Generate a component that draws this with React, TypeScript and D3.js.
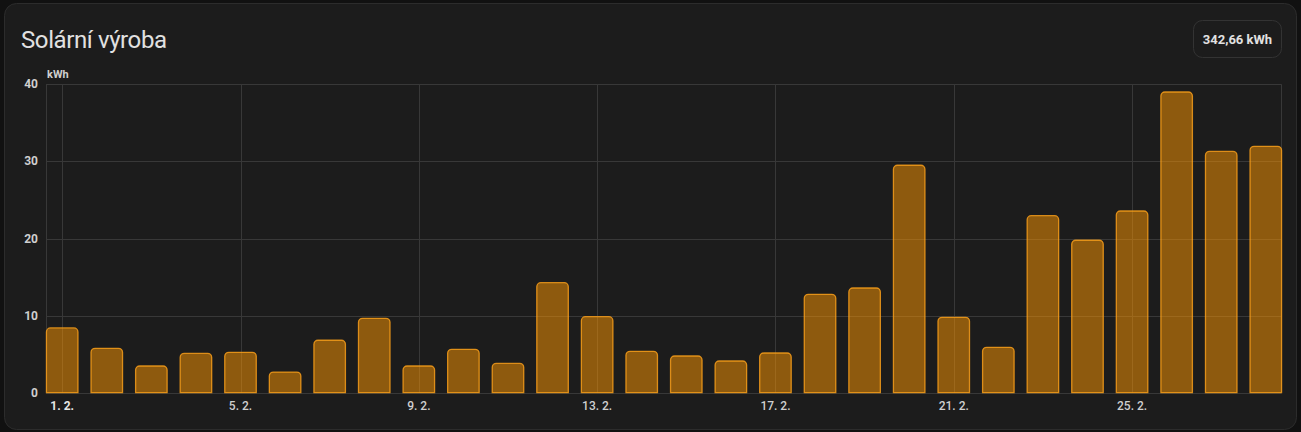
import React from "react";
import * as d3 from "d3";

const dayLabels = Array.from({ length: 28 }, (_, i) => `${i + 1}. 2.`);
const solarKWh = [
  8.4, 5.75, 3.46, 5.1, 5.24, 2.68, 6.8, 9.65, 3.46, 5.63, 3.8, 14.27, 9.86, 5.37,
  4.76, 4.11, 5.15, 12.76, 13.58, 29.5, 9.78, 5.89, 22.96, 19.77, 23.57, 39.0, 31.3, 31.96,
];
const yTicks = [0, 10, 20, 30, 40];
const xTickIdx = [0, 4, 8, 12, 16, 20, 24];
const title = "Solární výroba";
const totalLabel = "342,66 kWh";
const unit = "kWh";

const W = 1301;
const H = 432;
const plotL = 46;
const plotR = 1281.5;
const plotT = 84.3;
const plotB = 392.7;

export default function App() {
  const x = d3.scaleLinear().domain([0, 27]).range([62.2, 1265.8]);
  const y = d3.scaleLinear().domain([0, 40]).range([plotB, plotT]);
  const bw = 31.5;
  const font = "Roboto, 'Noto Sans', sans-serif";
  const grid = "#383838";

  const barPath = (cx: number, v: number) => {
    const x0 = cx - bw / 2;
    const x1 = cx + bw / 2;
    const top = y(v);
    const bot = y(0);
    const r = Math.min(4, (bot - top) / 2);
    const p = d3.path();
    p.moveTo(x0, bot);
    p.lineTo(x0, top + r);
    p.arcTo(x0, top, x0 + r, top, r);
    p.lineTo(x1 - r, top);
    p.arcTo(x1, top, x1, top + r, r);
    p.lineTo(x1, bot);
    p.closePath();
    return p.toString();
  };

  return (
    <svg
      width={W}
      height={H}
      style={{ position: "fixed", left: 0, top: 0, display: "block" }}
      fontFamily={font}
    >
      <rect x={0} y={0} width={W} height={H} fill="#111111" />
      <rect x={4.5} y={3.5} width={1292} height={426} rx={12} fill="#1c1c1c" stroke="#2c2c2c" />
      <text x={21} y={48} fontSize={24} letterSpacing={-0.4} fill="#e1e1e1">{title}</text>
      <rect x={1193.5} y={20.5} width={88} height={37} rx={9} fill="#1c1c1c" stroke="#333333" />
      <text x={1237.5} y={44} fontSize={13} fontWeight={700} fill="#e1e1e1" textAnchor="middle">
        {totalLabel}
      </text>

      {/* grid */}
      {yTicks.map((t) => (
        <line key={"h" + t} x1={plotL} x2={plotR} y1={Math.round(y(t)) + 0.5} y2={Math.round(y(t)) + 0.5} stroke={grid} />
      ))}
      <line x1={plotL + 0.5} x2={plotL + 0.5} y1={plotT} y2={plotB} stroke={grid} />
      <line x1={plotR} x2={plotR} y1={plotT} y2={plotB} stroke={grid} />
      {xTickIdx.map((i) => (
        <line key={"v" + i} x1={Math.round(x(i)) + 0.5} x2={Math.round(x(i)) + 0.5} y1={plotT} y2={plotB} stroke={grid} />
      ))}

      {/* bars */}
      {solarKWh.map((v, i) => (
        <path
          key={i}
          d={barPath(x(i), v)}
          fill="#ff9800"
          fillOpacity={0.5}
          stroke="#ffa31a"
          strokeOpacity={0.8}
          strokeWidth={1.3}
        />
      ))}

      {/* y axis labels */}
      {yTicks.map((t) => (
        <text key={"y" + t} x={38} y={y(t) + 4} fontSize={12} fontWeight={700} fill="#cfcfcf" textAnchor="end">
          {t}
        </text>
      ))}
      <text x={47} y={78} fontSize={11} fontWeight={700} fill="#cfcfcf">{unit}</text>

      {/* x axis labels */}
      {xTickIdx.map((i) => (
        <text
          key={"x" + i}
          x={x(i)}
          y={410}
          fontSize={12}
          fontWeight={i === 0 ? 700 : 500}
          fill={i === 0 ? "#e6e6e6" : "#cfcfcf"}
          textAnchor="middle"
        >
          {dayLabels[i]}
        </text>
      ))}
    </svg>
  );
}
